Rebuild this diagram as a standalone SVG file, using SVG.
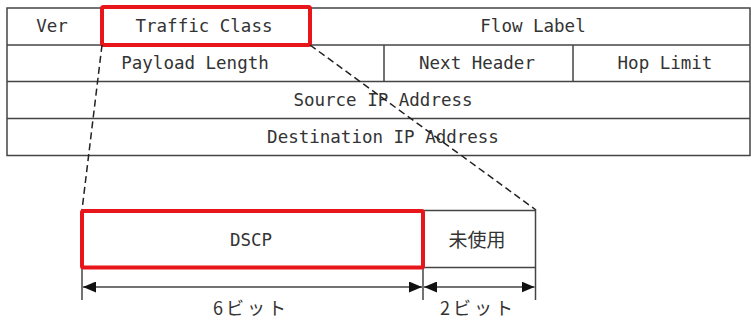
<svg xmlns="http://www.w3.org/2000/svg" width="751" height="320" viewBox="0 0 751 320">
<style>
.t{font-family:"DejaVu Sans Mono","Liberation Mono",monospace;font-size:17.5px;fill:#333;text-anchor:middle}
.j{font-family:"Noto Sans CJK JP",sans-serif;font-size:19px;fill:#333;text-anchor:middle}
.b{font-family:"Noto Sans CJK JP",sans-serif;font-size:18px;fill:#333;text-anchor:middle;letter-spacing:3px}
.ln{stroke:#444;stroke-width:1.5;fill:none}
.red{stroke:#e8161b;stroke-width:4;fill:none}
.dash{stroke:#222;stroke-width:1.5;stroke-dasharray:7,4;fill:none}
</style>
<defs>
<marker id="ah" viewBox="0 0 13 11" refX="13" refY="5.5" markerWidth="13" markerHeight="11" markerUnits="userSpaceOnUse" orient="auto-start-reverse">
<path d="M0,0 L13,5.5 L0,11 Z" fill="#111"/>
</marker>
</defs>
<g id="header">
<rect class="ln" x="7" y="8" width="743" height="147.5"/>
<line class="ln" x1="7" y1="45" x2="750" y2="45"/>
<line class="ln" x1="7" y1="81.5" x2="750" y2="81.5"/>
<line class="ln" x1="7" y1="118.5" x2="750" y2="118.5"/>
<line class="ln" x1="102" y1="8" x2="102" y2="45"/>
<line class="ln" x1="310" y1="8" x2="310" y2="45"/>
<line class="ln" x1="384" y1="45" x2="384" y2="81.5"/>
<line class="ln" x1="573" y1="45" x2="573" y2="81.5"/>
</g>
<g id="ver"><text class="t" x="52" y="32">Ver</text></g>
<g id="traffic-class">
<rect class="red" x="102" y="7" width="208" height="38" rx="1.5"/>
<text class="t" x="204" y="32">Traffic Class</text>
</g>
<g id="flow-label"><text class="t" x="533" y="32">Flow Label</text></g>
<g id="payload-length"><text class="t" x="195" y="69">Payload Length</text></g>
<g id="next-header"><text class="t" x="477" y="69">Next Header</text></g>
<g id="hop-limit"><text class="t" x="665" y="69">Hop Limit</text></g>
<g id="source-ip"><text class="t" x="383" y="106">Source IP Address</text></g>
<g id="dest-ip"><text class="t" x="383" y="143">Destination IP Address</text></g>
<g id="connectors">
<line class="dash" x1="102" y1="45" x2="82" y2="210"/>
<line class="dash" x1="310" y1="45" x2="536" y2="210"/>
<line class="ln" x1="82" y1="268" x2="82" y2="300"/>
<line class="ln" x1="423" y1="268" x2="423" y2="300"/>
<line class="ln" x1="535.5" y1="268" x2="535.5" y2="300"/>
<line class="ln" x1="83" y1="287" x2="422" y2="287" marker-start="url(#ah)" marker-end="url(#ah)"/>
<line class="ln" x1="424" y1="287" x2="534.5" y2="287" marker-start="url(#ah)" marker-end="url(#ah)"/>
</g>
<g id="unused">
<rect class="ln" x="423" y="210.5" width="112.5" height="57"/>
<text class="j" x="477" y="247">未使用</text>
</g>
<g id="dscp">
<rect class="red" x="82" y="211" width="341" height="56.5" rx="1.5"/>
<text class="t" x="251" y="246">DSCP</text>
</g>
<g id="label-6"><text class="b" x="251" y="315">6ビット</text></g>
<g id="label-2"><text class="b" x="478" y="315">2ビット</text></g>
</svg>
